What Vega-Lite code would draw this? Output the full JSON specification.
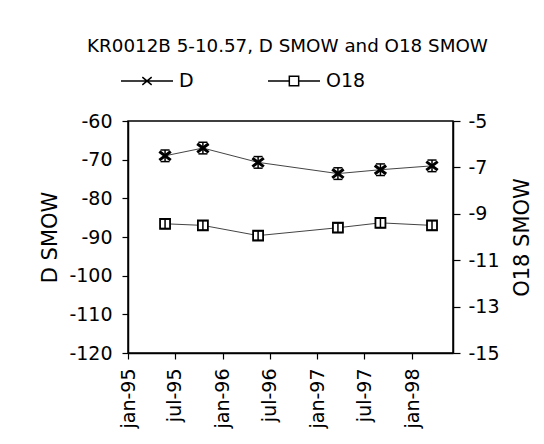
{
  "$schema": "https://vega.github.io/schema/vega-lite/v6.json",
  "width": 325,
  "height": 232,
  "autosize": {"type": "none"},
  "padding": {"left": 128, "top": 121, "right": 91, "bottom": 91},
  "background": "white",
  "config": {
    "font": "DejaVu Sans",
    "view": {"stroke": "black", "strokeWidth": 1.5},
    "axis": {
      "grid": false,
      "domainColor": "black",
      "tickColor": "black",
      "labelColor": "black",
      "titleColor": "black",
      "labelFont": "DejaVu Sans",
      "titleFont": "DejaVu Sans",
      "labelFontSize": 19,
      "titleFontSize": 21,
      "titleFontWeight": "normal",
      "domainWidth": 1.5,
      "tickWidth": 1.2
    }
  },
  "title": {
    "text": "KR0012B 5-10.57, D SMOW and O18 SMOW",
    "font": "DejaVu Sans",
    "fontSize": 18.3,
    "fontWeight": "normal",
    "color": "black",
    "anchor": "middle",
    "baseline": "alphabetic",
    "offset": -16,
    "dx": -3
  },
  "data": {
    "values": [
      {"date": "1995-05-24", "series": "D", "value": -69.0, "lo": -70.5, "hi": -67.5},
      {"date": "1995-10-17", "series": "D", "value": -67.0, "lo": -68.5, "hi": -65.5},
      {"date": "1996-05-17", "series": "D", "value": -70.7, "lo": -72.2, "hi": -69.2},
      {"date": "1997-03-21", "series": "D", "value": -73.6, "lo": -75.1, "hi": -72.1},
      {"date": "1997-09-01", "series": "D", "value": -72.6, "lo": -74.1, "hi": -71.1},
      {"date": "1998-03-19", "series": "D", "value": -71.6, "lo": -73.1, "hi": -70.1},
      {"date": "1995-05-24", "series": "O18", "value": -9.43, "lo": -9.63, "hi": -9.23},
      {"date": "1995-10-17", "series": "O18", "value": -9.5, "lo": -9.7, "hi": -9.3},
      {"date": "1996-05-17", "series": "O18", "value": -9.94, "lo": -10.14, "hi": -9.74},
      {"date": "1997-03-21", "series": "O18", "value": -9.6, "lo": -9.8, "hi": -9.4},
      {"date": "1997-09-01", "series": "O18", "value": -9.39, "lo": -9.59, "hi": -9.19},
      {"date": "1998-03-19", "series": "O18", "value": -9.5, "lo": -9.7, "hi": -9.3}
    ]
  },
  "encoding": {
    "x": {
      "field": "date",
      "type": "temporal",
      "scale": {
        "type": "utc",
        "domain": [
          {"year": 1995, "month": 1, "date": 1, "utc": true},
          {"year": 1998, "month": 6, "date": 8, "utc": true}
        ]
      },
      "axis": {
        "title": null,
        "values": [
          {"year": 1995, "month": 1, "date": 1, "utc": true},
          {"year": 1995, "month": 7, "date": 1, "utc": true},
          {"year": 1996, "month": 1, "date": 1, "utc": true},
          {"year": 1996, "month": 7, "date": 1, "utc": true},
          {"year": 1997, "month": 1, "date": 1, "utc": true},
          {"year": 1997, "month": 7, "date": 1, "utc": true},
          {"year": 1998, "month": 1, "date": 1, "utc": true}
        ],
        "labelExpr": "lower(utcFormat(datum.value, '%b-%y'))",
        "labelAngle": -90,
        "labelAlign": "right",
        "labelBaseline": "middle",
        "tickSize": 6,
        "labelPadding": 9
      }
    }
  },
  "layer": [
    {
      "transform": [{"filter": "datum.series === 'D'"}],
      "layer": [
        {
          "mark": {"type": "line", "color": "#444", "strokeWidth": 1},
          "encoding": {
            "y": {"field": "value", "type": "quantitative", "scale": {"domain": [-120, -60]},
              "axis": {"title": "D SMOW", "values": [-120, -110, -100, -90, -80, -70, -60], "labelExpr": "'' + datum.value", "tickSize": 6, "labelPadding": 10, "titlePadding": 8}}
          }
        },
        {
          "mark": {"type": "rule", "color": "black", "strokeWidth": 1.5},
          "encoding": {
            "y": {"field": "lo", "type": "quantitative", "scale": {"domain": [-120, -60]},
              "axis": {"title": "D SMOW", "values": [-120, -110, -100, -90, -80, -70, -60], "labelExpr": "'' + datum.value", "tickSize": 6, "labelPadding": 10, "titlePadding": 8}},
            "y2": {"field": "hi"}
          }
        },
        {
          "mark": {"type": "tick", "orient": "horizontal", "size": 9, "thickness": 1.5, "color": "black", "opacity": 1},
          "encoding": {"y": {"field": "lo", "type": "quantitative", "scale": {"domain": [-120, -60]},
              "axis": {"title": "D SMOW", "values": [-120, -110, -100, -90, -80, -70, -60], "labelExpr": "'' + datum.value", "tickSize": 6, "labelPadding": 10, "titlePadding": 8}}}
        },
        {
          "mark": {"type": "tick", "orient": "horizontal", "size": 9, "thickness": 1.5, "color": "black", "opacity": 1},
          "encoding": {"y": {"field": "hi", "type": "quantitative", "scale": {"domain": [-120, -60]},
              "axis": {"title": "D SMOW", "values": [-120, -110, -100, -90, -80, -70, -60], "labelExpr": "'' + datum.value", "tickSize": 6, "labelPadding": 10, "titlePadding": 8}}}
        },
        {
          "mark": {"type": "point", "shape": "M-1,-0.75L1,0.75M-1,0.75L1,-0.75", "size": 130, "strokeWidth": 3, "color": "black", "filled": false, "opacity": 1},
          "encoding": {"y": {"field": "value", "type": "quantitative", "scale": {"domain": [-120, -60]},
              "axis": {"title": "D SMOW", "values": [-120, -110, -100, -90, -80, -70, -60], "labelExpr": "'' + datum.value", "tickSize": 6, "labelPadding": 10, "titlePadding": 8}}}
        }
      ]
    },
    {
      "transform": [{"filter": "datum.series === 'O18'"}],
      "layer": [
        {
          "mark": {"type": "line", "color": "#444", "strokeWidth": 1},
          "encoding": {
            "y": {"field": "value", "type": "quantitative", "scale": {"domain": [-15, -5]},
              "axis": {"orient": "right", "title": "O18 SMOW", "titleAngle": 270, "titleBaseline": "top", "values": [-15, -13, -11, -9, -7, -5], "labelExpr": "'' + datum.value", "tickSize": 7, "labelPadding": 8, "titlePadding": 12}}
          }
        },
        {
          "mark": {"type": "point", "shape": "square", "size": 100, "strokeWidth": 1.8, "color": "black", "fill": "white", "filled": false, "opacity": 1},
          "encoding": {"y": {"field": "value", "type": "quantitative", "scale": {"domain": [-15, -5]},
              "axis": {"orient": "right", "title": "O18 SMOW", "titleAngle": 270, "titleBaseline": "top", "values": [-15, -13, -11, -9, -7, -5], "labelExpr": "'' + datum.value", "tickSize": 7, "labelPadding": 8, "titlePadding": 12}}}
        },
        {
          "mark": {"type": "rule", "color": "black", "strokeWidth": 1.5},
          "encoding": {
            "y": {"field": "lo", "type": "quantitative", "scale": {"domain": [-15, -5]},
              "axis": {"orient": "right", "title": "O18 SMOW", "titleAngle": 270, "titleBaseline": "top", "values": [-15, -13, -11, -9, -7, -5], "labelExpr": "'' + datum.value", "tickSize": 7, "labelPadding": 8, "titlePadding": 12}},
            "y2": {"field": "hi"}
          }
        },
        {
          "mark": {"type": "tick", "orient": "horizontal", "size": 9, "thickness": 1.5, "color": "black", "opacity": 1},
          "encoding": {"y": {"field": "lo", "type": "quantitative", "scale": {"domain": [-15, -5]},
              "axis": {"orient": "right", "title": "O18 SMOW", "titleAngle": 270, "titleBaseline": "top", "values": [-15, -13, -11, -9, -7, -5], "labelExpr": "'' + datum.value", "tickSize": 7, "labelPadding": 8, "titlePadding": 12}}}
        },
        {
          "mark": {"type": "tick", "orient": "horizontal", "size": 9, "thickness": 1.5, "color": "black", "opacity": 1},
          "encoding": {"y": {"field": "hi", "type": "quantitative", "scale": {"domain": [-15, -5]},
              "axis": {"orient": "right", "title": "O18 SMOW", "titleAngle": 270, "titleBaseline": "top", "values": [-15, -13, -11, -9, -7, -5], "labelExpr": "'' + datum.value", "tickSize": 7, "labelPadding": 8, "titlePadding": 12}}}
        }
      ]
    },
    {
      "transform": [{"filter": "false"}],
      "mark": {"type": "point", "filled": false, "color": "black", "strokeWidth": 1.5, "opacity": 1},
      "encoding": {
        "shape": {
          "field": "series",
          "type": "nominal",
          "scale": {
            "domain": ["D", "O18"],
            "range": [
              "M-1,0H1M-0.18,-0.15L0.18,0.15M-0.18,0.15L0.18,-0.15",
              "M-1,0H-0.18M0.18,0H1M-0.18,-0.18H0.18V0.18H-0.18Z"
            ]
          },
          "legend": {
            "orient": "none",
            "legendX": -8,
            "legendY": -67,
            "direction": "horizontal",
            "title": null,
            "padding": 0,
            "labelFont": "DejaVu Sans",
            "labelFontSize": 19,
            "labelColor": "black",
            "labelOffset": 5,
            "columnPadding": 71,
            "symbolSize": 2704,
            "symbolStrokeWidth": 1.5,
            "symbolStrokeColor": "black",
            "symbolFillColor": "transparent"
          }
        }
      }
    }
  ],
  "resolve": {"scale": {"y": "independent"}}
}
